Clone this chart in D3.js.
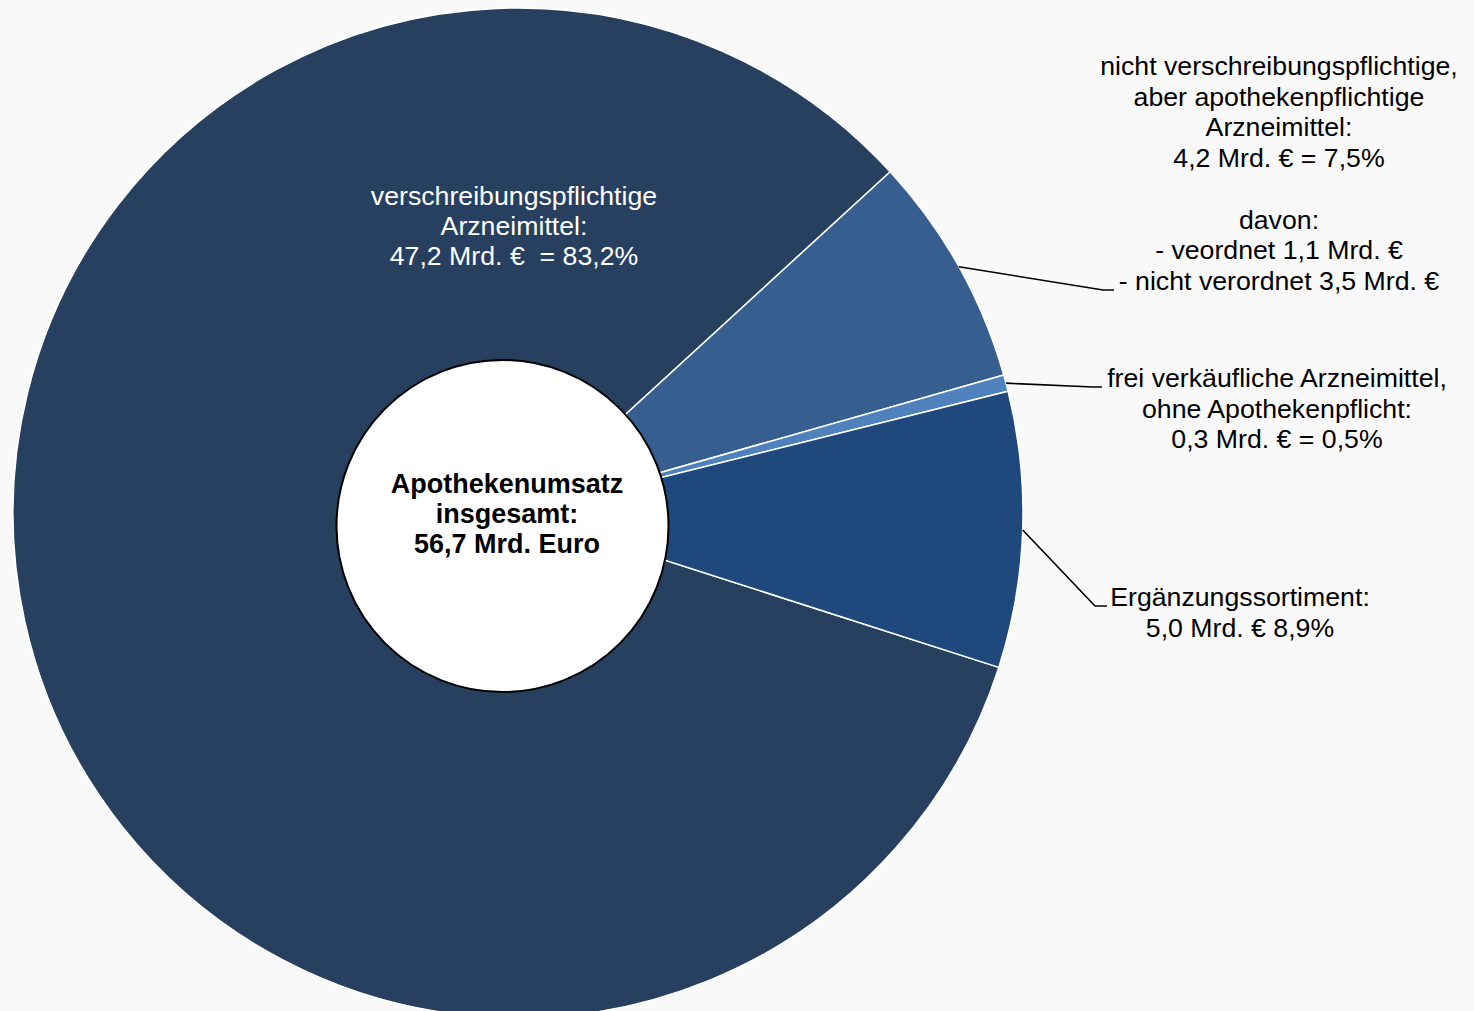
<!DOCTYPE html>
<html lang="de">
	<head>
		<meta charset="UTF-8">
		<title>Apothekenumsatz</title>
		<script src="https://d3js.org/d3.v7.min.js"></script>
		<style>
			body { margin: 0; background: #f9f9f9; }
			svg { display: block; }
			text { font-family: "Liberation Sans", Arial, sans-serif; white-space: pre; }
		</style>
	</head>
	<body>
		<div id="chart"></div>
		<script>
			// ---------- data
			var categories = ["verschreibungspflichtige", "nicht verschreibungspflichtige", "frei verkäufliche", "Ergänzungssortiment"];
			var values = [47.2, 4.2, 0.3, 5.0];   // Mrd. Euro
			var colors = ["#27405f", "#365f90", "#4f81bd", "#1f497d"];
			var labels = [
				["verschreibungspflichtige", "Arzneimittel:", "47,2 Mrd. €  = 83,2%"],
				["nicht verschreibungspflichtige,", "aber apothekenpflichtige", "Arzneimittel:", "4,2 Mrd. € = 7,5%", "", "davon:", "- veordnet 1,1 Mrd. €", "- nicht verordnet 3,5 Mrd. €"],
				["frei verkäufliche Arzneimittel,", "ohne Apothekenpflicht:", "0,3 Mrd. € = 0,5%"],
				["Ergänzungssortiment:", "5,0 Mrd. € 8,9%"]
			];
			var centerLabel = ["Apothekenumsatz", "insgesamt:", "56,7 Mrd. Euro"];

			// ---------- layout
			var W = 1474, H = 1011;
			var cx = 518, cy = 513, R = 505;
			var fs = 26.7;
			// label blocks: centre x, first baseline, line step, leader elbow and end
			var labelPos = [
				{x: 514, y: 205, step: 30, fill: "#fff"},
				{x: 1279, y: 75, step: 30.7, elbow: [1103, 290], end: [1114, 290]},
				{x: 1277, y: 387, step: 30.7, elbow: [1093, 387], end: [1102, 387]},
				{x: 1240, y: 606, step: 30.7, elbow: [1095, 606], end: [1107, 606]}
			];

			var svg = d3.select("#chart").append("svg")
				.attr("width", W)
				.attr("height", H);

			svg.append("rect").attr("width", W).attr("height", H).attr("fill", "#f9f9f9");

			var startA = 107.8 * Math.PI / 180;
			var pie = d3.pie().sort(null).value(function(d){ return d; })
				.startAngle(startA).endAngle(startA + 2 * Math.PI);
			var arcs = pie(values);
			var arc = d3.arc().innerRadius(0).outerRadius(R);

			var g = svg.append("g").attr("transform", "translate(" + cx + "," + cy + ")");
			g.selectAll("path.slice")
				.data(arcs)
				.enter().append("path")
				.attr("class", "slice")
				.attr("d", arc)
				.attr("fill", function(d, i){ return colors[i]; })
				.attr("stroke", "#fff")
				.attr("stroke-width", 1.5)
				.attr("stroke-linejoin", "round");

			// leader lines from the middle of the outer edge
			arcs.forEach(function(d, i) {
				var lp = labelPos[i];
				if (!lp.elbow) return;
				var a = (d.startAngle + d.endAngle) / 2;
				var p0 = [cx + R * Math.sin(a), cy - R * Math.cos(a)];
				svg.append("path")
					.attr("d", d3.line()([p0, lp.elbow, lp.end]))
					.attr("fill", "none")
					.attr("stroke", "#000")
					.attr("stroke-width", 1.6);
			});

			// slice labels
			labels.forEach(function(lines, i) {
				var lp = labelPos[i];
				var t = svg.append("text")
					.attr("text-anchor", "middle")
					.attr("font-size", fs)
					.attr("fill", lp.fill || "#000");
				lines.forEach(function(s, j) {
					t.append("tspan")
						.attr("x", lp.x)
						.attr("y", lp.y + j * lp.step)
						.text(s);
				});
			});

			// centre disc
			svg.append("circle")
				.attr("cx", 502.5)
				.attr("cy", 526)
				.attr("r", 166)
				.attr("fill", "#fff")
				.attr("stroke", "#000")
				.attr("stroke-width", 2);

			var ct = svg.append("text")
				.attr("text-anchor", "middle")
				.attr("font-size", 27)
				.attr("font-weight", "bold")
				.attr("fill", "#000");
			centerLabel.forEach(function(s, j) {
				ct.append("tspan").attr("x", 507).attr("y", 493 + j * 30).text(s);
			});
		</script>
	</body>
</html>
